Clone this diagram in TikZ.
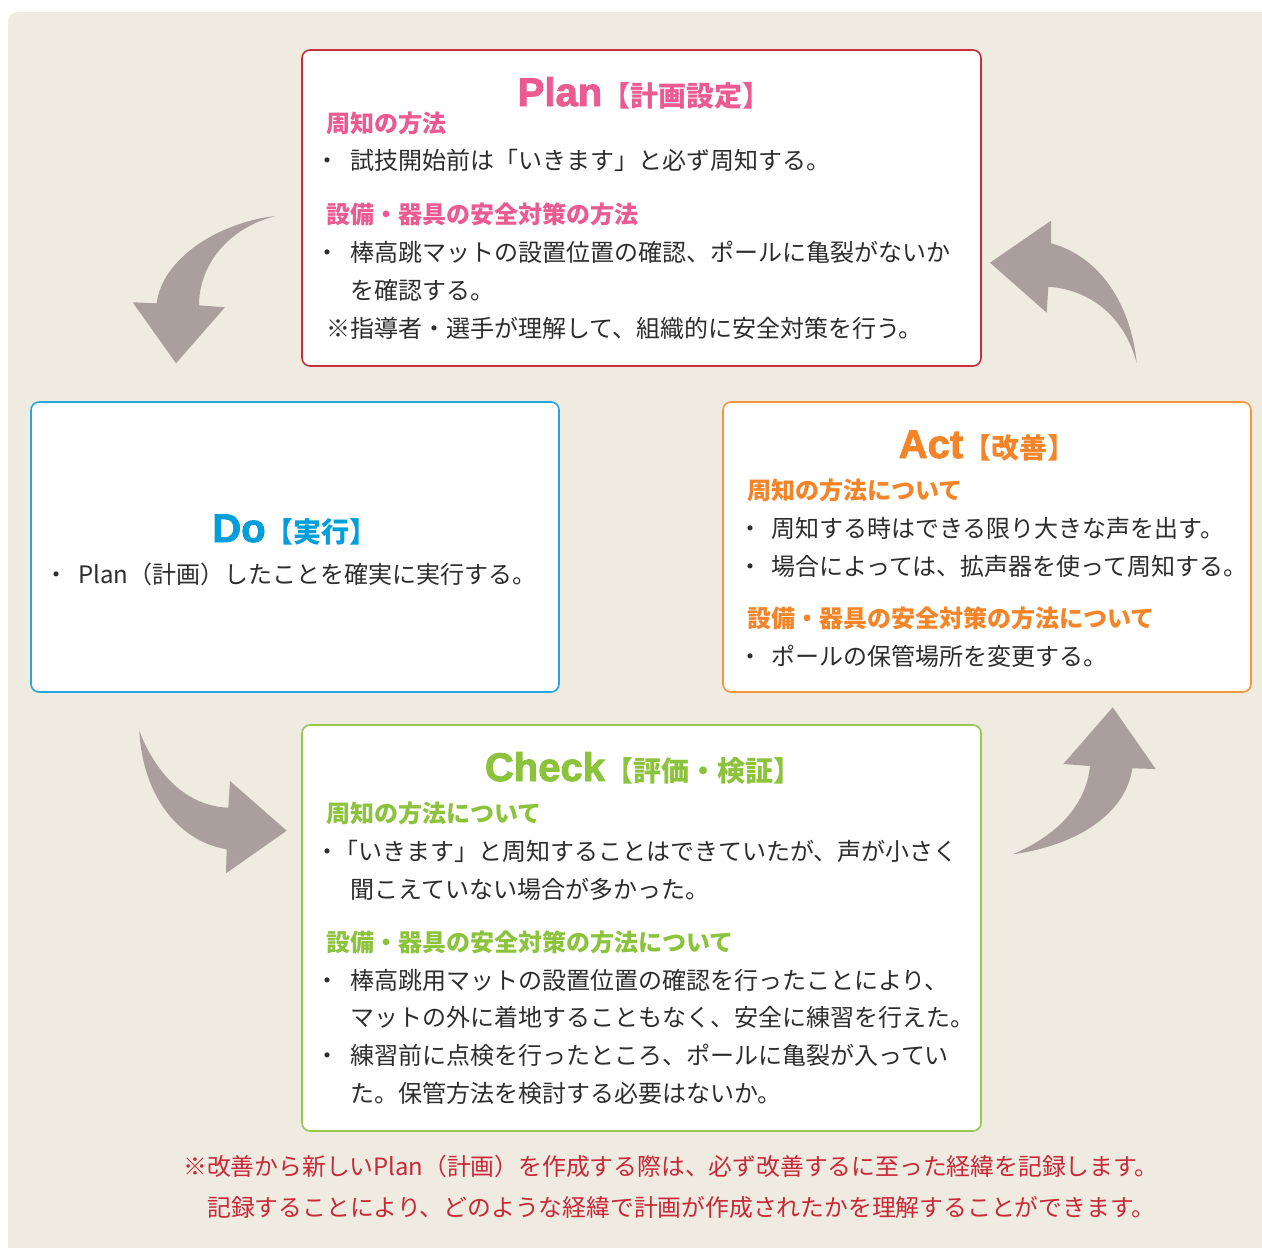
\documentclass[tikz,border=0pt]{standalone}
\usepackage{fontspec}
\setmainfont{Noto Sans CJK JP}
\newfontfamily\titlefont[FakeBold=2.2]{Liberation Sans}
\definecolor{bg}{RGB}{239,235,225}
\definecolor{txt}{RGB}{45,45,45}
\definecolor{arrowc}{RGB}{170,159,156}
\definecolor{pinkt}{RGB}{235,90,145}
\definecolor{planb}{RGB}{200,45,62}
\definecolor{bluet}{RGB}{0,158,219}
\definecolor{blueb}{RGB}{40,165,225}
\definecolor{oranget}{RGB}{243,132,40}
\definecolor{orangeb}{RGB}{243,150,60}
\definecolor{greent}{RGB}{140,195,60}
\definecolor{greenb}{RGB}{150,200,80}
\definecolor{notec}{RGB}{200,40,55}
\tikzset{
  box/.style={draw, line width=1.6pt, fill=white, rounded corners=8pt, inner sep=0pt},
  body/.style={anchor=base west, inner sep=0pt, text=txt, font=\fontsize{24}{28}\selectfont},
  head/.style={anchor=base west, inner sep=0pt, font=\fontsize{24}{28}\selectfont\bfseries},
  bul/.style={anchor=base, inner sep=0pt, text=txt, font=\fontsize{24}{28}\selectfont},
  ttl/.style={anchor=base, inner sep=0pt},
  flow/.style={fill=arrowc, draw=none},
  note/.style={anchor=base west, inner sep=0pt, text=notec, font=\fontsize{23.8}{28}\selectfont},
}
\newcommand{\ttlA}[2]{{\titlefont\bfseries\fontsize{40}{42}\selectfont #1}{\bfseries\fontsize{28}{30}\selectfont #2}}
\begin{document}
\begin{tikzpicture}[x=1pt,y=-1pt]
\useasboundingbox (0,0) rectangle (1262,1248);
\fill[white] (0,0) rectangle (1262,1248);
\fill[bg, rounded corners=10pt] (8,12) rectangle (1290,1275);

% arrows
\fill[flow] (275.7,216) .. controls (220,222) and (162,258) .. (156.7,303.3)
  -- (132.7,302.3) -- (176,363.3) -- (225,307.3) -- (199,305.3)
  .. controls (199,265) and (228,228) .. cycle;
\fill[flow] (1136.7,363.3) .. controls (1132,312) and (1105,258) .. (1051,243.3)
  -- (1051,220.7) -- (990,262.7) -- (1046.7,312.7) -- (1048.3,286.7)
  .. controls (1092,290) and (1125,318) .. cycle;
\fill[flow] (139.3,730.7) .. controls (143,800) and (182,842) .. (226.7,849.3)
  -- (226,873.3) -- (286.7,830.7) -- (230,781) -- (228.3,807.7)
  .. controls (185,806) and (155,772) .. cycle;
\fill[flow] (1012.7,854.3) .. controls (1080,845) and (1126,812) .. (1132.3,768.3)
  -- (1155.7,769) -- (1112.7,707.3) -- (1063.3,764) -- (1090,766)
  .. controls (1086,806) and (1056,836) .. cycle;

% boxes
\node[box, draw=planb, minimum width=679pt, minimum height=316pt] (plan) at (641.5,208) {};
\node[box, draw=blueb, minimum width=528pt, minimum height=290pt] (do) at (295,547) {};
\node[box, draw=orangeb, minimum width=528pt, minimum height=290pt] (act) at (987,547) {};
\node[box, draw=greenb, minimum width=679pt, minimum height=406pt] (check) at (641.5,928) {};

% Plan
\node[ttl, text=pinkt] (planT) at (644,106) {\ttlA{Plan}{【計画設定】}};
\node[head, text=pinkt] (planH1) at (326,132) {周知の方法};
\node[bul] (planB1) at (327,169) {・};
\node[body] (planL1) at (350,169) {試技開始前は「いきます」と必ず周知する。};
\node[head, text=pinkt] (planH2) at (326,223) {設備・器具の安全対策の方法};
\node[bul] (planB2) at (327,261) {・};
\node[body] (planL2) at (350,261) {棒高跳マットの設置位置の確認、ポールに亀裂がないか};
\node[body] (planL3) at (350,299) {を確認する。};
\node[body] (planL4) at (326,337) {※指導者・選手が理解して、組織的に安全対策を行う。};

% Do
\node[ttl, text=bluet] (doT) at (295,542) {\ttlA{Do}{【実行】}};
\node[bul] (doB1) at (57,583) {・};
\node[body] (doL1) at (78,583) {Plan（計画）したことを確実に実行する。};

% Act
\node[ttl, text=oranget] (actT) at (987,458) {\ttlA{Act}{【改善】}};
\node[head, text=oranget] (actH1) at (747,499) {周知の方法について};
\node[bul] (actB1) at (750,537) {・};
\node[body] (actL1) at (771,537) {周知する時はできる限り大きな声を出す。};
\node[bul] (actB2) at (750,575) {・};
\node[body] (actL2) at (771,575) {場合によっては、拡声器を使って周知する。};
\node[head, text=oranget] (actH2) at (747,627) {設備・器具の安全対策の方法について};
\node[bul] (actB3) at (750,665) {・};
\node[body] (actL3) at (771,665) {ポールの保管場所を変更する。};

% Check
\node[ttl, text=greent] (chkT) at (643,781) {\ttlA{Check}{【評価・検証】}};
\node[head, text=greent] (chkH1) at (326,822) {周知の方法について};
\node[bul] (chkB1) at (327,860) {・};
\node[body] (chkL1) at (334,860) {「いきます」と周知することはできていたが、声が小さく};
\node[body] (chkL2) at (350,898) {聞こえていない場合が多かった。};
\node[head, text=greent] (chkH2) at (326,951) {設備・器具の安全対策の方法について};
\node[bul] (chkB2) at (327,989) {・};
\node[body] (chkL3) at (350,989) {棒高跳用マットの設置位置の確認を行ったことにより、};
\node[body] (chkL4) at (350,1026) {マットの外に着地することもなく、安全に練習を行えた。};
\node[bul] (chkB3) at (327,1064) {・};
\node[body] (chkL5) at (350,1064) {練習前に点検を行ったところ、ポールに亀裂が入ってい};
\node[body] (chkL6) at (350,1102) {た。保管方法を検討する必要はないか。};

% note
\node[note] (note1) at (183,1175) {※改善から新しいPlan（計画）を作成する際は、必ず改善するに至った経緯を記録します。};
\node[note] (note2) at (207,1216) {記録することにより、どのような経緯で計画が作成されたかを理解することができます。};
\end{tikzpicture}
\end{document}
